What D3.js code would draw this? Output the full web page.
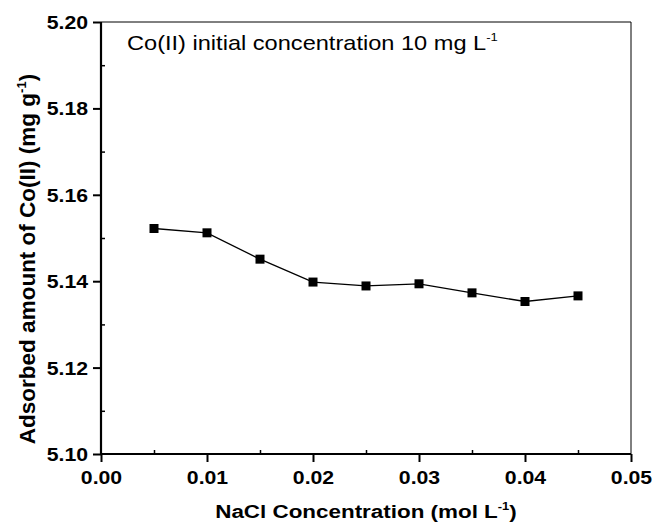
<!DOCTYPE html>
<html>
<head>
<meta charset="utf-8">
<script src="https://cdn.jsdelivr.net/npm/d3@7"></script>
<style>
  body { margin: 0; background: #fff; }
  svg { display: block; font-family: "Liberation Sans", Arial, sans-serif; }
</style>
</head>
<body>
<svg width="653" height="529"></svg>
<script>
// NaCl concentration (mol/L) vs adsorbed Co(II) (mg/g)
var nacl = [0.005, 0.010, 0.015, 0.020, 0.025, 0.030, 0.035, 0.040, 0.045];
var adsorbed = [5.1522, 5.1512, 5.1451, 5.1398, 5.1389, 5.1394, 5.1373, 5.1353, 5.1366];
var xTicks = [0.00, 0.01, 0.02, 0.03, 0.04, 0.05];
var xMinor = [0.005, 0.015, 0.025, 0.035, 0.045];
var yTicks = [5.10, 5.12, 5.14, 5.16, 5.18, 5.20];
var yMinor = [5.11, 5.13, 5.15, 5.17, 5.19];

var svg = d3.select("svg"),
    margin = {top: 22, right: 22, bottom: 75, left: 101},
    width = 653 - margin.left - margin.right,
    height = 529 - margin.top - margin.bottom;

var stretch = 1.18; // text in the reference is a bit wide

var x = d3.scaleLinear().domain([0, 0.05]).range([0, width]),
    y = d3.scaleLinear().domain([5.10, 5.20]).range([height, 0]);

var g = svg.append("g")
    .attr("transform", "translate(" + margin.left + "," + margin.top + ")");

// minor ticks, pointing inward
g.append("g")
    .attr("transform", "translate(0," + height + ")")
    .call(d3.axisBottom(x).tickValues(xMinor).tickSize(-4).tickFormat(""))
    .call(function(a) { a.select(".domain").remove(); })
    .selectAll("line").attr("stroke-width", 1.5);
g.append("g")
    .call(d3.axisLeft(y).tickValues(yMinor).tickSize(-4).tickFormat(""))
    .call(function(a) { a.select(".domain").remove(); })
    .selectAll("line").attr("stroke-width", 1.5);

// major axes
var xAxis = g.append("g")
    .attr("transform", "translate(0," + height + ")")
    .call(d3.axisBottom(x).tickValues(xTicks).tickSize(8).tickFormat(d3.format(".2f")));
xAxis.select(".domain").remove();
xAxis.selectAll("line").attr("stroke-width", 2);
xAxis.selectAll("text")
    .attr("y", 0).attr("dy", 0)
    .attr("transform", "translate(0,30) scale(" + stretch + ",1)")
    .style("font-size", "18px").style("font-weight", "bold")
    .attr("fill", "#000").attr("font-family", null);

var yAxis = g.append("g")
    .call(d3.axisLeft(y).tickValues(yTicks).tickSize(8).tickFormat(d3.format(".2f")));
yAxis.select(".domain").remove();
yAxis.selectAll("line").attr("stroke-width", 2);
yAxis.selectAll("text")
    .attr("x", 0).attr("dy", "0.36em")
    .attr("transform", "translate(-13,0) scale(" + stretch + ",1)")
    .style("font-size", "18px").style("font-weight", "bold")
    .attr("fill", "#000").attr("font-family", null);

// frame: thick left/bottom, thin top/right
g.append("line").attr("x1", 0).attr("x2", width).attr("y1", 0).attr("y2", 0)
    .attr("stroke", "#000").attr("stroke-width", 1);
g.append("line").attr("x1", width).attr("x2", width).attr("y1", 0).attr("y2", height)
    .attr("stroke", "#000").attr("stroke-width", 1);
g.append("line").attr("x1", 0).attr("x2", 0).attr("y1", 0).attr("y2", height + 1)
    .attr("stroke", "#000").attr("stroke-width", 2.2);
g.append("line").attr("x1", -1).attr("x2", width).attr("y1", height).attr("y2", height)
    .attr("stroke", "#000").attr("stroke-width", 2.2);

// data
var data = nacl.map(function(d, i) { return {c: d, q: adsorbed[i]}; });

g.append("path")
    .datum(data)
    .attr("fill", "none")
    .attr("stroke", "#000")
    .attr("stroke-width", 1.3)
    .attr("d", d3.line().x(function(d) { return x(d.c); }).y(function(d) { return y(d.q); }));

var ms = 9;
g.selectAll(".pt")
    .data(data)
  .enter().append("rect")
    .attr("class", "pt")
    .attr("x", function(d) { return x(d.c) - ms / 2; })
    .attr("y", function(d) { return y(d.q) - ms / 2; })
    .attr("width", ms).attr("height", ms)
    .attr("fill", "#000");

// annotation
var note = g.append("text")
    .attr("transform", "translate(26,28) scale(" + stretch + ",1)")
    .style("font-size", "20px")
    .attr("fill", "#000");
note.append("tspan").text("Co(II) initial concentration 10 mg L");
note.append("tspan").attr("dy", -9).style("font-size", "11px").text("-1");

// x title
var xt = svg.append("text")
    .attr("transform", "translate(" + (margin.left + width / 2) + ",518) scale(" + stretch + ",1)")
    .attr("text-anchor", "middle")
    .style("font-size", "19px").style("font-weight", "bold");
xt.append("tspan").text("NaCl Concentration (mol L");
xt.append("tspan").attr("dy", -8).style("font-size", "11px").text("-1");
xt.append("tspan").attr("dy", 8).text(")");

// y title
var yt = svg.append("text")
    .attr("transform", "translate(35,259) rotate(-90)")
    .attr("text-anchor", "middle")
    .style("font-size", "22.5px").style("font-weight", "bold");
yt.append("tspan").text("Adsorbed amount of Co(II) (mg g");
yt.append("tspan").attr("dy", -9).style("font-size", "13px").text("-1");
yt.append("tspan").attr("dy", 9).text(")");
</script>
</body>
</html>
